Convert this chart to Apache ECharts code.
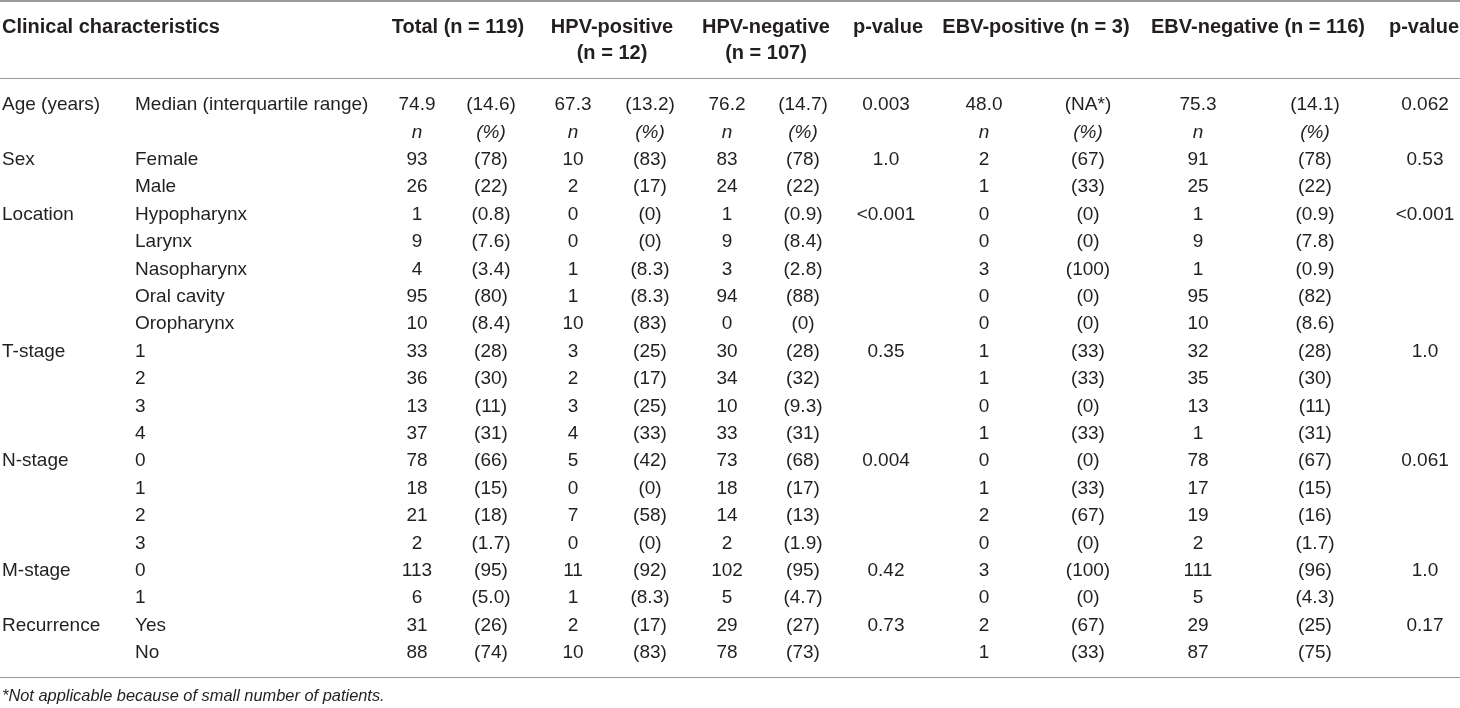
<!DOCTYPE html>
<html>
<head>
<meta charset="utf-8">
<script src="https://cdn.jsdelivr.net/npm/echarts@6/dist/echarts.min.js"></script>
<style>
html,body{margin:0;padding:0;background:#fff;}
#chart{width:1460px;height:708px;}
</style>
</head>
<body>
<div id="chart"></div>
<script>
// ---- data ----
var rowGroup = ['Age (years)', '', 'Sex', '', 'Location', '', '', '', '', 'T-stage', '', '', '', 'N-stage', '', '', '', 'M-stage', '', 'Recurrence', ''];
var rowLevel = ['Median (interquartile range)', '', 'Female', 'Male', 'Hypopharynx', 'Larynx', 'Nasopharynx', 'Oral cavity', 'Oropharynx', '1', '2', '3', '4', '0', '1', '2', '3', '0', '1', 'Yes', 'No'];
var totalN = ['74.9', 'n', '93', '26', '1', '9', '4', '95', '10', '33', '36', '13', '37', '78', '18', '21', '2', '113', '6', '31', '88'];
var totalPct = ['(14.6)', '(%)', '(78)', '(22)', '(0.8)', '(7.6)', '(3.4)', '(80)', '(8.4)', '(28)', '(30)', '(11)', '(31)', '(66)', '(15)', '(18)', '(1.7)', '(95)', '(5.0)', '(26)', '(74)'];
var hpvPosN = ['67.3', 'n', '10', '2', '0', '0', '1', '1', '10', '3', '2', '3', '4', '5', '0', '7', '0', '11', '1', '2', '10'];
var hpvPosPct = ['(13.2)', '(%)', '(83)', '(17)', '(0)', '(0)', '(8.3)', '(8.3)', '(83)', '(25)', '(17)', '(25)', '(33)', '(42)', '(0)', '(58)', '(0)', '(92)', '(8.3)', '(17)', '(83)'];
var hpvNegN = ['76.2', 'n', '83', '24', '1', '9', '3', '94', '0', '30', '34', '10', '33', '73', '18', '14', '2', '102', '5', '29', '78'];
var hpvNegPct = ['(14.7)', '(%)', '(78)', '(22)', '(0.9)', '(8.4)', '(2.8)', '(88)', '(0)', '(28)', '(32)', '(9.3)', '(31)', '(68)', '(17)', '(13)', '(1.9)', '(95)', '(4.7)', '(27)', '(73)'];
var hpvP = ['0.003', '', '1.0', '', '<0.001', '', '', '', '', '0.35', '', '', '', '0.004', '', '', '', '0.42', '', '0.73', ''];
var ebvPosN = ['48.0', 'n', '2', '1', '0', '0', '3', '0', '0', '1', '1', '0', '1', '0', '1', '2', '0', '3', '0', '2', '1'];
var ebvPosPct = ['(NA*)', '(%)', '(67)', '(33)', '(0)', '(0)', '(100)', '(0)', '(0)', '(33)', '(33)', '(0)', '(33)', '(0)', '(33)', '(67)', '(0)', '(100)', '(0)', '(67)', '(33)'];
var ebvNegN = ['75.3', 'n', '91', '25', '1', '9', '1', '95', '10', '32', '35', '13', '1', '78', '17', '19', '2', '111', '5', '29', '87'];
var ebvNegPct = ['(14.1)', '(%)', '(78)', '(22)', '(0.9)', '(7.8)', '(0.9)', '(82)', '(8.6)', '(28)', '(30)', '(11)', '(31)', '(67)', '(15)', '(16)', '(1.7)', '(96)', '(4.3)', '(25)', '(75)'];
var ebvP = ['0.062', '', '0.53', '', '<0.001', '', '', '', '', '1.0', '', '', '', '0.061', '', '', '', '1.0', '', '0.17', ''];

var headerLine1 = ['Clinical characteristics', 'Total (n = 119)', 'HPV-positive', 'HPV-negative', 'p-value', 'EBV-positive (n = 3)', 'EBV-negative (n = 116)', 'p-value'];
var headerLine2 = ['', '', '(n = 12)', '(n = 107)', '', '', '', ''];
var footnote = '*Not applicable because of small number of patients.';

// ---- layout (not data) ----
var bodyCols = [rowGroup, rowLevel, totalN, totalPct, hpvPosN, hpvPosPct, hpvNegN, hpvNegPct, hpvP, ebvPosN, ebvPosPct, ebvNegN, ebvNegPct, ebvP];
var bodyColX = [2, 135, 417, 491, 573, 650, 727, 803, 886, 984, 1088, 1198, 1315, 1425];
var bodyAlign = ['left', 'left', 'center', 'center', 'center', 'center', 'center', 'center', 'center', 'center', 'center', 'center', 'center', 'center'];
var headColX = [2, 458, 612, 766, 888, 1036, 1258, 1424];
var headAlign = ['left', 'center', 'center', 'center', 'center', 'center', 'center', 'center'];

var FONT = '"Liberation Sans", Arial, Helvetica, sans-serif';
var COLOR = '#231f20';

var rowKeys = rowLevel.map(function (_, i) { return 'r' + i; });
var bodyData = [], bodyText = [], bodyMeta = [];
bodyCols.forEach(function (col, c) {
  col.forEach(function (t, r) {
    if (t === '') return;
    bodyData.push([bodyColX[c], r]);
    bodyText.push(t);
    bodyMeta.push({ align: bodyAlign[c], italic: (r === 1 && c >= 2) });
  });
});
var headData = [], headText = [], headMeta = [];
[headerLine1, headerLine2].forEach(function (line, r) {
  line.forEach(function (t, c) {
    if (t === '') return;
    headData.push([headColX[c], r]);
    headText.push(t);
    headMeta.push({ align: headAlign[c] });
  });
});

function makeRender(texts, metas, bold, size) {
  return function (params, api) {
    var p = api.coord([api.value(0), api.value(1)]);
    var m = metas[params.dataIndex];
    return {
      type: 'text',
      x: p[0], y: p[1],
      style: {
        text: texts[params.dataIndex],
        textAlign: m.align,
        textVerticalAlign: 'middle',
        fontFamily: FONT,
        fontSize: size,
        fontWeight: bold ? 'bold' : 'normal',
        fontStyle: m.italic ? 'italic' : 'normal',
        fill: COLOR
      }
    };
  };
}

var chart = echarts.init(document.getElementById('chart'), null, { renderer: 'canvas' });
var hiddenX = { type: 'value', min: 0, max: 1460, show: false };
chart.setOption({
  animation: false,
  backgroundColor: '#fff',
  title: {
    text: footnote, left: 2, top: 688, padding: 0,
    textStyle: { fontFamily: FONT, fontSize: 16.4, fontStyle: 'italic', fontWeight: 'normal', color: COLOR }
  },
  grid: [
    { left: 0, right: 0, top: 14, height: 52 },
    { left: 0, right: 0, top: 91.3, height: 575.4 }
  ],
  xAxis: [
    Object.assign({ gridIndex: 0 }, hiddenX),
    Object.assign({ gridIndex: 1 }, hiddenX)
  ],
  yAxis: [
    { gridIndex: 0, type: 'category', data: ['h0', 'h1'], inverse: true, show: false },
    { gridIndex: 1, type: 'category', data: rowKeys, inverse: true, show: false }
  ],
  graphic: [
    { type: 'line', shape: { x1: 0, y1: 1, x2: 1460, y2: 1 }, style: { stroke: '#9a9a9a', lineWidth: 2 } },
    { type: 'line', shape: { x1: 0, y1: 78.5, x2: 1460, y2: 78.5 }, style: { stroke: '#9a9a9a', lineWidth: 1.2 } },
    { type: 'line', shape: { x1: 0, y1: 677.5, x2: 1460, y2: 677.5 }, style: { stroke: '#9a9a9a', lineWidth: 1.2 } }
  ],
  series: [
    { type: 'custom', xAxisIndex: 0, yAxisIndex: 0, data: headData, renderItem: makeRender(headText, headMeta, true, 20), silent: true },
    { type: 'custom', xAxisIndex: 1, yAxisIndex: 1, data: bodyData, renderItem: makeRender(bodyText, bodyMeta, false, 19), silent: true }
  ]
});
</script>
</body>
</html>
